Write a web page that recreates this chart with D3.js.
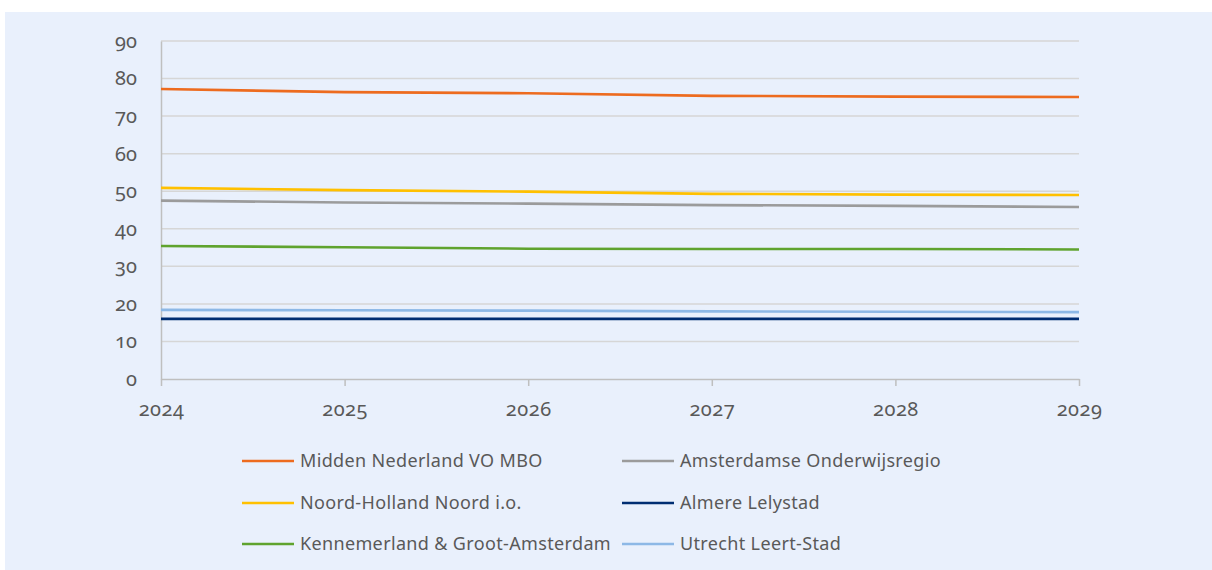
<!DOCTYPE html>
<html><head><meta charset="utf-8">
<script src="https://cdn.jsdelivr.net/npm/d3@7"></script>
<style>
html,body{margin:0;padding:0;background:#fff;}
svg text{font-family:"Noto Sans","Open Sans",sans-serif;font-variant-numeric:oldstyle-nums;fill:#595959;}
</style></head><body>
<svg id="c" width="1212" height="570"></svg>
<script>
const years = [2024, 2025, 2026, 2027, 2028, 2029];
const yTicks = [0, 10, 20, 30, 40, 50, 60, 70, 80, 90];
const seriesNames = ["Midden Nederland VO MBO", "Amsterdamse Onderwijsregio", "Noord-Holland Noord i.o.", "Almere Lelystad", "Kennemerland & Groot-Amsterdam", "Utrecht Leert-Stad"];
const seriesColors = ["#ED6B1F", "#9B9B9B", "#FFC000", "#002D72", "#5FA32E", "#8DB8E6"];
const middenNederland = [77.2, 76.4, 76.1, 75.4, 75.2, 75.1];
const amsterdamse = [47.5, 47.0, 46.7, 46.3, 46.1, 45.8];
const noordHolland = [50.9, 50.3, 49.9, 49.3, 49.1, 49.0];
const almereLelystad = [16.0, 16.0, 16.0, 16.0, 16.0, 16.0];
const kennemerland = [35.4, 35.1, 34.7, 34.6, 34.6, 34.5];
const utrecht = [18.4, 18.3, 18.2, 18.0, 17.9, 17.8];
const seriesValues = [middenNederland, amsterdamse, noordHolland, almereLelystad, kennemerland, utrecht];
// draw order (back to front)
const drawOrder = [5, 3, 4, 1, 2, 0];

const svg = d3.select("#c");
svg.append("rect").attr("x", 5).attr("y", 12).attr("width", 1207).attr("height", 558).attr("fill", "#E9F0FC");

const x = d3.scaleLinear().domain([2024, 2029]).range([161, 1079]);
const y = d3.scaleLinear().domain([0, 90]).range([379, 41]);

// gridlines
svg.append("g").selectAll("line").data(yTicks.filter(d => d > 0)).join("line")
  .attr("x1", x(2024)).attr("x2", x(2029)).attr("y1", d => y(d)).attr("y2", d => y(d))
  .attr("stroke", "#D6D6D6").attr("stroke-width", 1.5);

// y axis
const yAxis = svg.append("g").attr("transform", `translate(${x(2024)},0)`)
  .call(d3.axisLeft(y).tickValues(yTicks).tickSize(0).tickPadding(24).tickFormat(d3.format("d")));
yAxis.select(".domain").attr("stroke", "#BFBFBF").attr("stroke-width", 1.5);
yAxis.attr("font-size", null).attr("font-family", null);
yAxis.selectAll("text").style("font-size", "20px").style("fill", "#595959");

// x axis
const xAxis = svg.append("g").attr("transform", `translate(0,${y(0)})`)
  .call(d3.axisBottom(x).tickValues(years).tickSize(7).tickSizeOuter(0).tickPadding(16).tickFormat(d3.format("d")));
xAxis.select(".domain").attr("stroke", "#BFBFBF").attr("stroke-width", 1.5);
xAxis.attr("font-size", null).attr("font-family", null);
xAxis.selectAll(".tick line").attr("stroke", "#BFBFBF").attr("stroke-width", 1.5);
xAxis.selectAll("text").style("font-size", "20px").style("letter-spacing", "0.5px").style("fill", "#595959");

const line = d3.line().x((d, i) => x(years[i])).y(d => y(d));
svg.append("g").selectAll("path").data(drawOrder).join("path")
  .attr("d", i => line(seriesValues[i]))
  .attr("fill", "none").attr("stroke", i => seriesColors[i]).attr("stroke-width", 2.6);

// legend
const legX = [242, 622], legY = [461, 503, 544];
const leg = svg.append("g").selectAll("g").data(seriesNames).join("g")
  .attr("transform", (d, i) => `translate(${legX[i % 2]},${legY[Math.floor(i / 2)]})`);
leg.append("line").attr("x1", 0).attr("x2", 52).attr("y1", 0).attr("y2", 0)
  .attr("stroke", (d, i) => seriesColors[i]).attr("stroke-width", 2.6);
leg.append("text").attr("x", 58).attr("y", 0).attr("dy", "0.35em")
  .style("font-size", "18px").style("letter-spacing", "0.35px").text(d => d);
</script>
</body></html>
